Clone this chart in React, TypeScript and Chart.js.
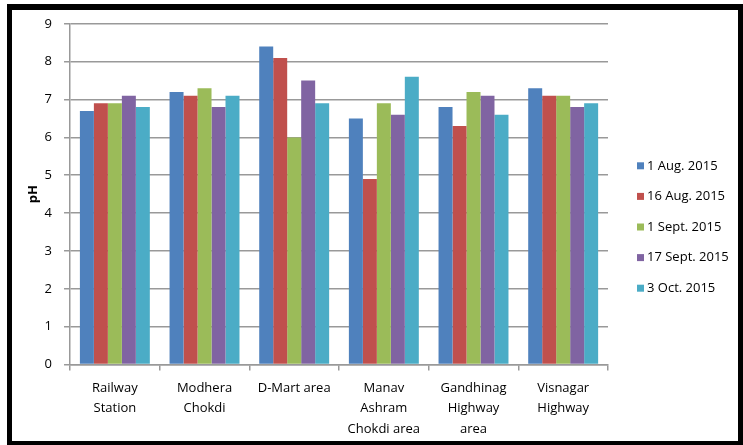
import React, { useEffect, useRef } from "react";
import { Chart, registerables } from "chart.js";

Chart.register(...registerables);

const categories: (string | string[])[] = [
  ["Railway", "Station"],
  ["Modhera", "Chokdi"],
  "D-Mart area",
  ["Manav", "Ashram", "Chokdi area"],
  ["Gandhinag", "Highway", "area"],
  ["Visnagar", "Highway"],
];

const seriesNames = ["1 Aug. 2015", "16 Aug. 2015", "1 Sept. 2015", "17 Sept. 2015", "3 Oct. 2015"];
const aug1 = [6.7, 7.2, 8.4, 6.5, 6.8, 7.3];
const aug16 = [6.9, 7.1, 8.1, 4.9, 6.3, 7.1];
const sep1 = [6.9, 7.3, 6.0, 6.9, 7.2, 7.1];
const sep17 = [7.1, 6.8, 7.5, 6.6, 7.1, 6.8];
const oct3 = [6.8, 7.1, 6.9, 7.6, 6.6, 6.9];
const seriesValues = [aug1, aug16, sep1, sep17, oct3];
const seriesColors = ["#4F81BD", "#C0504D", "#9BBB59", "#8064A2", "#4BACC6"];

const yTitle = "pH";
const yMin = 0;
const yMax = 9;
const yStep = 1;

const FONT = "'Open Sans', sans-serif";

const sideLegend = {
  id: "sideLegend",
  afterDraw(chart: any) {
    const { ctx, chartArea } = chart;
    const x0 = chartArea.right + 29;
    const yc = chart.height / 2 + 1.5;
    const gap = 30.6;
    const n = chart.data.datasets.length;
    ctx.save();
    ctx.font = `13px ${FONT}`;
    ctx.textBaseline = "middle";
    ctx.textAlign = "left";
    chart.data.datasets.forEach((ds: any, i: number) => {
      const y = yc + (i - (n - 1) / 2) * gap;
      ctx.fillStyle = ds.backgroundColor;
      ctx.fillRect(x0, y - 3.5, 7, 7);
      ctx.fillStyle = "#000";
      ctx.fillText(ds.label, x0 + 10, y);
    });
    ctx.restore();
  },
};

const CANVAS_LEFT = 25;

export default function App() {
  const ref = useRef<HTMLCanvasElement | null>(null);

  useEffect(() => {
    if (!ref.current) return;
    const chart = new Chart(ref.current, {
      type: "bar",
      data: {
        labels: categories,
        datasets: seriesNames.map((name, i) => ({
          label: name,
          data: seriesValues[i],
          backgroundColor: seriesColors[i],
          borderWidth: 0,
          categoryPercentage: 0.78,
          barPercentage: 1,
        })),
      },
      options: {
        animation: false,
        responsive: false,
        maintainAspectRatio: false,
        layout: { padding: { top: 4, left: 0, right: 130, bottom: 0 } },
        plugins: {
          tooltip: { enabled: false },
          legend: { display: false },
        },
        scales: {
          x: {
            grid: {
              drawOnChartArea: false,
              drawTicks: true,
              tickLength: 6,
              color: "#999",
              lineWidth: 1.5,
              offset: true,
            },
            border: { color: "#999", width: 1.5 },
            ticks: {
              color: "#000",
              font: { family: FONT, size: 13, lineHeight: 1.55 },
              padding: 8,
              maxRotation: 0,
              autoSkip: false,
            },
          },
          y: {
            min: yMin,
            max: yMax,
            ticks: {
              stepSize: yStep,
              color: "#000",
              font: { family: FONT, size: 13 },
              padding: 12,
            },
            grid: { color: "#999", lineWidth: 1.5, tickLength: 6 },
            border: { color: "#999", width: 1.5 },
            title: {
              display: true,
              text: yTitle,
              color: "#000",
              font: { family: FONT, size: 13, weight: "bold" },
              padding: { top: 0, bottom: -8 },
            },
          },
        },
      },
      plugins: [sideLegend],
    });
    return () => chart.destroy();
  }, []);

  return (
    <div style={{ position: "fixed", left: 0, top: 0, width: 743, height: 445, background: "#fff", overflow: "hidden" }}>
      <canvas ref={ref} width={738 - CANVAS_LEFT} height={443} style={{ position: "absolute", left: CANVAS_LEFT, top: 4 }} />
      <div style={{ position: "absolute", left: 7, top: 4, width: 731, height: 6, background: "#000" }} />
      <div style={{ position: "absolute", left: 7, top: 4, width: 5, height: 441, background: "#000" }} />
      <div style={{ position: "absolute", left: 738, top: 4, width: 5, height: 441, background: "#000" }} />
      <div style={{ position: "absolute", left: 7, top: 441, width: 736, height: 4, background: "#000" }} />
    </div>
  );
}
